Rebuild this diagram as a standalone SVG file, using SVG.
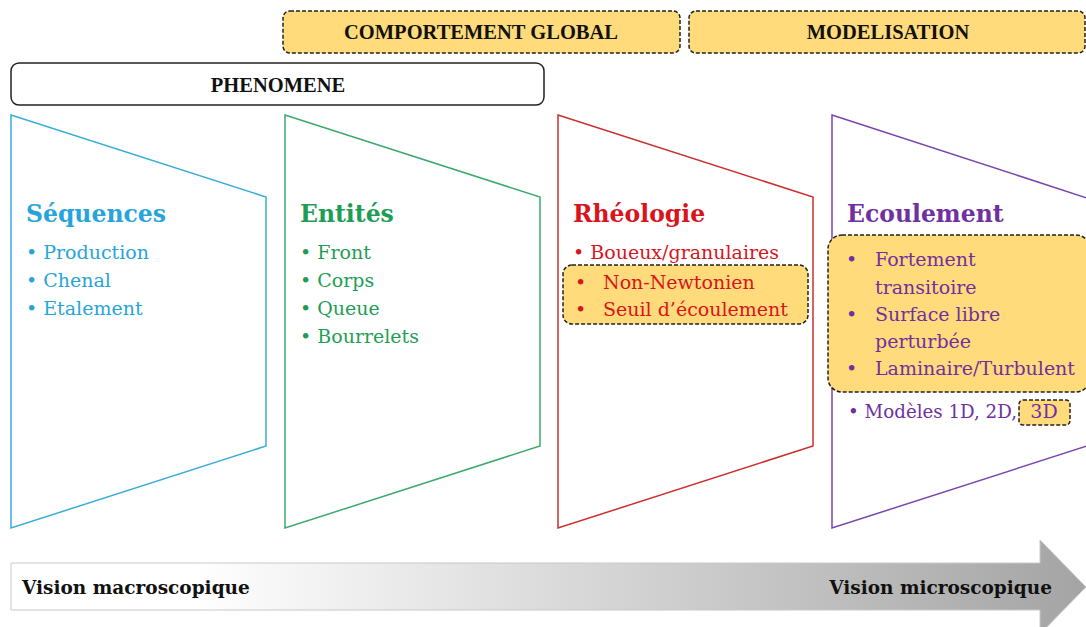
<svg xmlns="http://www.w3.org/2000/svg" width="1086" height="627" viewBox="0 0 1086 627">
<defs>
<style>
text{font-family:"DejaVu Serif","Liberation Serif",serif;}
.hdr{font-family:"Liberation Serif","DejaVu Serif",serif;font-size:20.5px;font-weight:bold;fill:#111;text-anchor:middle;}
.ttl{font-size:23.5px;font-weight:bold;}
.it{font-size:19px;}
.ybox{fill:#FFDB7B;stroke:#222;stroke-width:1.5;stroke-dasharray:4 2;}
.trap{fill:#fff;stroke-width:1.5;}
.vis{font-size:18.5px;font-weight:bold;fill:#111;}
</style>
<linearGradient id="g" x1="0" y1="0" x2="1" y2="0">
<stop offset="0" stop-color="#ffffff"/>
<stop offset="0.17" stop-color="#ffffff"/>
<stop offset="1" stop-color="#a4a4a4"/>
</linearGradient>
</defs>

<g id="comportement">
<rect class="ybox" x="283" y="11" width="397" height="42" rx="7"/>
<text class="hdr" x="481" y="39">COMPORTEMENT GLOBAL</text>
</g>
<g id="modelisation">
<rect class="ybox" x="689" y="11" width="396" height="42" rx="7"/>
<text class="hdr" x="888" y="39">MODELISATION</text>
</g>
<g id="phenomene">
<rect x="11" y="63" width="533" height="42" rx="8" fill="#fff" stroke="#222" stroke-width="1.5"/>
<text class="hdr" x="278" y="92">PHENOMENE</text>
</g>

<g id="sequences">
<polygon class="trap" stroke="#3AADD9" points="11,115 266,197 266,446 11,528"/>
<text class="ttl" x="26" y="222" fill="#27A4DA">Séquences</text>
<g class="it" fill="#27A4DA">
<text x="26" y="259">• Production</text>
<text x="26" y="287">• Chenal</text>
<text x="26" y="315">• Etalement</text>
</g>
</g>

<g id="entites">
<polygon class="trap" stroke="#3DAA6C" points="285,115 540,197 540,446 285,528"/>
<text class="ttl" x="300" y="222" fill="#1E9E55">Entités</text>
<g class="it" fill="#1E9E55">
<text x="300" y="259">• Front</text>
<text x="300" y="287">• Corps</text>
<text x="300" y="315">• Queue</text>
<text x="300" y="343">• Bourrelets</text>
</g>
</g>

<g id="rheologie">
<polygon class="trap" stroke="#C8302F" points="558,115 813,197 813,446 558,528"/>
<text class="ttl" x="573" y="222" fill="#D9141B">Rhéologie</text>
<text class="it" x="573" y="259" fill="#D9141B">• Boueux/granulaires</text>
<rect class="ybox" x="563" y="265" width="245" height="59" rx="9"/>
<g class="it" fill="#D9141B">
<text x="575" y="289">•</text>
<text x="603" y="289">Non-Newtonien</text>
<text x="575" y="316">•</text>
<text x="603" y="316">Seuil d’écoulement</text>
</g>
</g>

<g id="ecoulement">
<polygon class="trap" stroke="#7A45B0" points="832,115 1087,198 1087,446 832,528"/>
<text class="ttl" x="847" y="222" fill="#7030A0">Ecoulement</text>
<rect class="ybox" x="828" y="235" width="262" height="157" rx="14"/>
<g class="it" fill="#7030A0">
<text x="846" y="266">•</text>
<text x="875" y="266">Fortement</text>
<text x="875" y="294">transitoire</text>
<text x="846" y="321">•</text>
<text x="875" y="321">Surface libre</text>
<text x="875" y="348">perturbée</text>
<text x="846" y="375">•</text>
<text x="875" y="375">Laminaire/Turbulent</text>
</g>
<rect class="ybox" x="1019" y="400" width="51" height="25" rx="4"/>
<text class="it" x="848" y="418" fill="#7030A0" textLength="169" lengthAdjust="spacingAndGlyphs">• Modèles 1D, 2D,</text>
<text class="it" x="1044" y="418" fill="#7030A0" text-anchor="middle">3D</text>
</g>

<g id="arrow">
<path d="M11,563 H1040 V540 L1086,587 L1040,634 V610 H11 Z" fill="url(#g)" stroke="#c8c8c8" stroke-width="1"/>
<text class="vis" x="22" y="594">Vision macroscopique</text>
<text class="vis" x="1052" y="594" text-anchor="end">Vision microscopique</text>
</g>
</svg>
